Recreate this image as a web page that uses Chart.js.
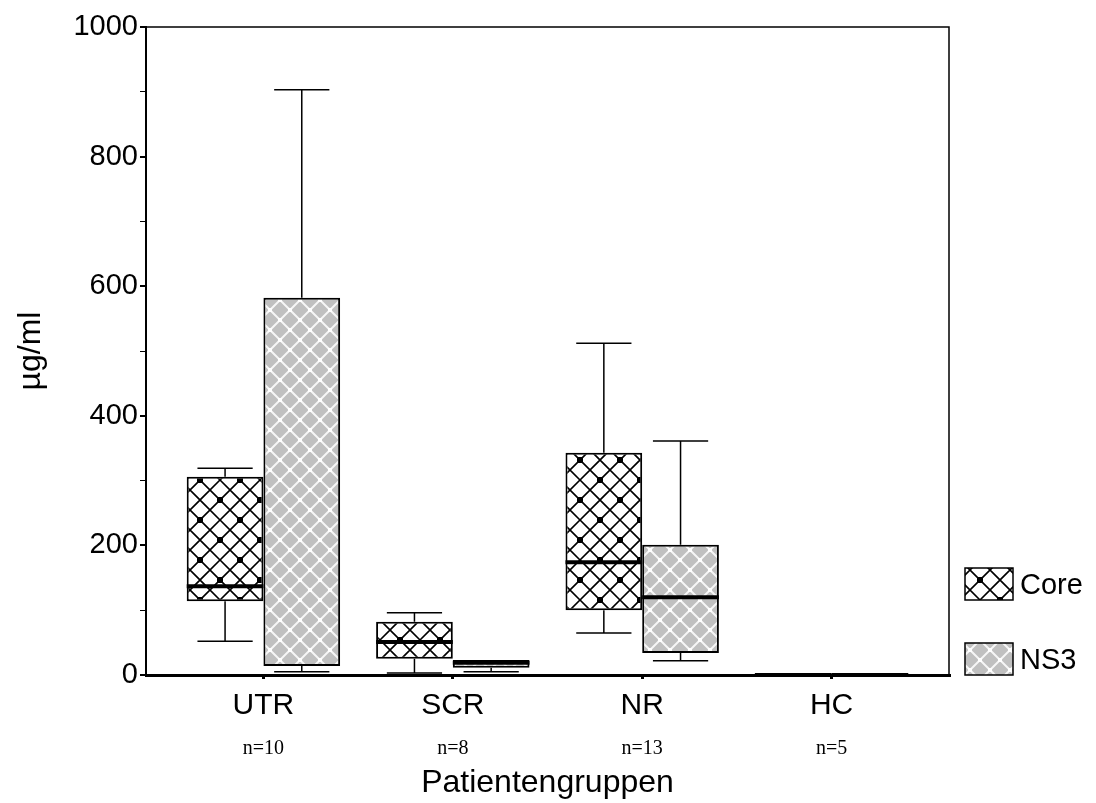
<!DOCTYPE html>
<html>
<head>
<meta charset="utf-8">
<script src="https://cdn.jsdelivr.net/npm/chart.js@4/dist/chart.umd.min.js"></script>
<style>
  html, body { margin: 0; background: #fff; }
</style>
</head>
<body>
<canvas id="boxChart" width="1096" height="803"></canvas>
<script>
// Gruppen und Fallzahlen
const groups = ["UTR", "SCR", "NR", "HC"];
const groupSizes = ["n=10", "n=8", "n=13", "n=5"];

// Core (µg/ml)
const coreMin = [52, 3, 65, 0];
const coreQ1 = [114, 25, 100, 0];
const coreMedian = [137, 51, 174, 0];
const coreQ3 = [306, 82, 343, 0];
const coreMax = [319, 96, 512, 0];

// NS3 (µg/ml)
const ns3Min = [5, 5, 22, 0];
const ns3Q1 = [14, 11, 34, 0];
const ns3Median = [null, 19, 120, 0];
const ns3Q3 = [582, 23, 201, 0];
const ns3Max = [903, 23, 361, 0];

const yTicksMax = 1000;

const font = "Arial, 'Liberation Sans', sans-serif";

// Muster fuer die Boxen
function makeCorePattern() {
  const c = document.createElement("canvas");
  c.width = 40;
  c.height = 40;
  const g = c.getContext("2d");
  g.fillStyle = "#fff";
  g.fillRect(0, 0, 40, 40);
  g.strokeStyle = "#000";
  g.lineWidth = 1.6;
  g.beginPath();
  for (let k = -40; k <= 80; k += 20) {
    g.moveTo(k, 0); g.lineTo(k + 40, 40);
    g.moveTo(k, 40); g.lineTo(k + 40, 0);
  }
  g.stroke();
  g.fillStyle = "#000";
  [[0, 0], [40, 0], [0, 40], [40, 40], [20, 20]].forEach(p => {
    g.fillRect(p[0] - 3, p[1] - 3, 6, 6);
  });
  return g.createPattern(c, "repeat");
}

function makeNs3Pattern() {
  const c = document.createElement("canvas");
  c.width = 20;
  c.height = 20;
  const g = c.getContext("2d");
  g.fillStyle = "#c0c0c0";
  g.fillRect(0, 0, 20, 20);
  g.strokeStyle = "rgba(255,255,255,0.85)";
  g.lineWidth = 2;
  g.beginPath();
  for (let k = -20; k <= 40; k += 20) {
    g.moveTo(k, 0); g.lineTo(k + 20, 20);
    g.moveTo(k, 20); g.lineTo(k + 20, 0);
  }
  g.stroke();
  g.fillStyle = "#fff";
  [[0, 0], [20, 0], [0, 20], [20, 20], [10, 10]].forEach(p => {
    g.fillRect(p[0] - 2, p[1] - 2, 4, 4);
  });
  return g.createPattern(c, "repeat");
}

const corePattern = makeCorePattern();
const ns3Pattern = makeNs3Pattern();

// Whisker + Median
const boxPlotPlugin = {
  id: "boxPlot",
  afterDatasetsDraw(chart) {
    const ctx = chart.ctx;
    const y = chart.scales.y;
    ctx.save();
    ctx.strokeStyle = "#000";
    chart.data.datasets.forEach((ds, di) => {
      const meta = chart.getDatasetMeta(di);
      meta.data.forEach((bar, i) => {
        const { x, width } = bar.getProps(["x", "width"], true);
        const yQ1 = y.getPixelForValue(ds.data[i].y[0]);
        const yQ3 = y.getPixelForValue(ds.data[i].y[1]);
        const yMin = y.getPixelForValue(ds.whiskerMin[i]);
        const yMax = y.getPixelForValue(ds.whiskerMax[i]);
        const cap = width * 0.36;
        ctx.lineWidth = 1.5;
        ctx.beginPath();
        if (yMax < yQ3) {
          ctx.moveTo(x, yQ3); ctx.lineTo(x, yMax);
          ctx.moveTo(x - cap, yMax); ctx.lineTo(x + cap, yMax);
        }
        if (yMin > yQ1) {
          ctx.moveTo(x, yQ1); ctx.lineTo(x, yMin);
          ctx.moveTo(x - cap, yMin); ctx.lineTo(x + cap, yMin);
        }
        ctx.stroke();
        if (ds.median[i] !== null) {
          const yMed = y.getPixelForValue(ds.median[i]);
          ctx.lineWidth = 4;
          ctx.beginPath();
          ctx.moveTo(x - width / 2, yMed);
          ctx.lineTo(x + width / 2, yMed);
          ctx.stroke();
        }
      });
    });
    ctx.restore();
  }
};

// Rahmen oben/rechts und Legende rechts unten
const framePlugin = {
  id: "frame",
  afterDraw(chart) {
    const ctx = chart.ctx;
    const a = chart.chartArea;
    ctx.save();
    ctx.strokeStyle = "#000";
    ctx.lineWidth = 1.5;
    ctx.beginPath();
    ctx.moveTo(a.left, a.top);
    ctx.lineTo(a.right, a.top);
    ctx.lineTo(a.right, a.bottom);
    ctx.stroke();

    const n = chart.data.datasets.length;
    ctx.font = "29px " + font;
    ctx.textBaseline = "middle";
    chart.data.datasets.forEach((ds, i) => {
      const bx = a.right + 16;
      const by = a.bottom - 32 - (n - 1 - i) * 75;
      ctx.fillStyle = ds.backgroundColor;
      ctx.fillRect(bx, by, 48, 32);
      ctx.lineWidth = 1.5;
      ctx.strokeRect(bx, by, 48, 32);
      ctx.fillStyle = "#000";
      ctx.fillText(ds.label, bx + 55, by + 18);
    });
    ctx.restore();
  }
};

const ctx = document.getElementById("boxChart").getContext("2d");

const chart = new Chart(ctx, {
  type: "bar",
  data: {
    datasets: [
      {
        label: "Core",
        data: groups.map((g, i) => ({ x: i, y: [coreQ1[i], coreQ3[i]] })),
        whiskerMin: coreMin,
        whiskerMax: coreMax,
        median: coreMedian,
        backgroundColor: corePattern,
        borderColor: "#000",
        borderWidth: 2,
        borderSkipped: false
      },
      {
        label: "NS3",
        data: groups.map((g, i) => ({ x: i, y: [ns3Q1[i], ns3Q3[i]] })),
        whiskerMin: ns3Min,
        whiskerMax: ns3Max,
        median: ns3Median,
        backgroundColor: ns3Pattern,
        borderColor: "#000",
        borderWidth: 2,
        borderSkipped: false
      }
    ]
  },
  options: {
    responsive: false,
    animation: false,
    categoryPercentage: 0.81,
    barPercentage: 1,
    layout: { padding: { top: 27, right: 147, left: 0, bottom: 0 } },
    plugins: {
      legend: { display: false },
      tooltip: { enabled: false }
    },
    scales: {
      x: {
        type: "linear",
        min: -0.62,
        max: 3.62,
        offset: false,
        afterBuildTicks: s => { s.ticks = groups.map((g, i) => ({ value: i })); },
        afterFit: s => { s.height = 52; },
        ticks: {
          callback: v => groups[v],
          color: "#000",
          font: { family: font, size: 30 },
          padding: 9,
          maxRotation: 0
        },
        grid: { offset: false, drawOnChartArea: false, tickLength: 4, lineWidth: 3, color: "#000" },
        border: { color: "#000", width: 3 }
      },
      x2: {
        type: "linear",
        position: "bottom",
        min: -0.62,
        max: 3.62,
        offset: false,
        afterBuildTicks: s => { s.ticks = groups.map((g, i) => ({ value: i })); },
        afterFit: s => { s.height = 76; },
        ticks: {
          callback: v => groupSizes[v],
          color: "#000",
          font: { family: "'Times New Roman', 'Liberation Serif', serif", size: 20 },
          padding: 2,
          maxRotation: 0
        },
        grid: { display: false },
        border: { display: false },
        title: {
          display: true,
          text: "Patientengruppen",
          color: "#000",
          font: { family: font, size: 32 },
          padding: { top: 0, bottom: 1 }
        }
      },
      y: {
        min: 0,
        max: yTicksMax,
        afterFit: s => { s.width = 146; },
        ticks: {
          stepSize: 100,
          callback: v => (v % 200 === 0 ? v : ""),
          color: "#000",
          font: { family: font, size: 29 },
          padding: 2
        },
        grid: {
          drawOnChartArea: false,
          tickLength: 6,
          color: "#000",
          lineWidth: c => (c.tick && c.tick.value % 200 === 0 ? 2 : 1)
        },
        border: { color: "#000", width: 2 },
        title: {
          display: true,
          text: "µg/ml",
          color: "#000",
          font: { family: font, size: 32 },
          padding: { top: 12, bottom: 0 }
        }
      }
    }
  },
  plugins: [boxPlotPlugin, framePlugin]
});
</script>
</body>
</html>
